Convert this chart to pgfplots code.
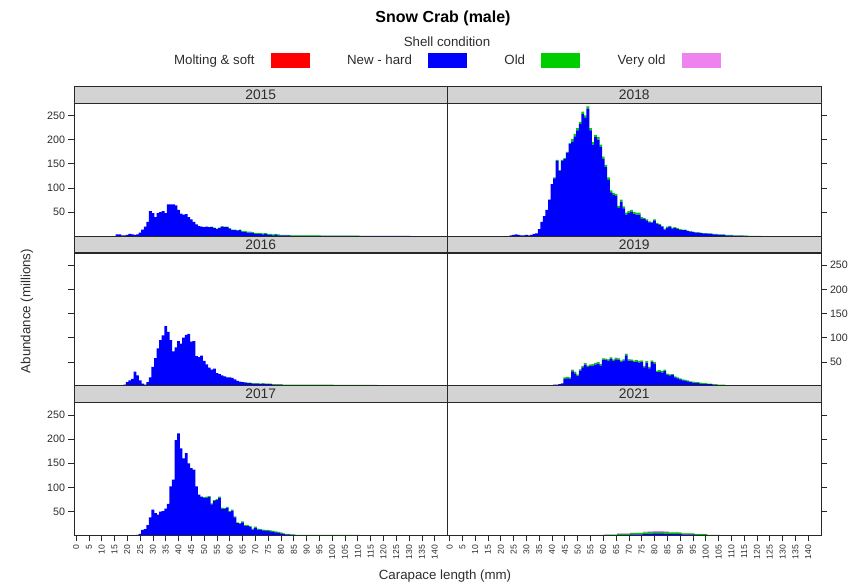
\documentclass[border=0pt]{standalone}
\usepackage{fontspec}
\setmainfont{Liberation Sans}
\usepackage{pgfplots}
\usepackage{pgfplotstable}
\pgfplotsset{compat=1.18}

\definecolor{molt}{RGB}{255,0,0}
\definecolor{newhard}{RGB}{0,0,255}
\definecolor{oldc}{RGB}{0,205,0}
\definecolor{vold}{RGB}{238,130,238}
\definecolor{stripgray}{RGB}{211,211,211}
\definecolor{frame}{RGB}{40,40,40}
\definecolor{ticktext}{RGB}{45,45,45}

\newcommand\labfont{\fontsize{13.3bp}{16bp}\selectfont}
\newcommand\stripfont{\fontsize{13.8bp}{16bp}\selectfont}
\newcommand\titlefont{\fontsize{16bp}{19bp}\selectfont\bfseries}
\newcommand\yfont{\fontsize{10.7bp}{12bp}\selectfont}
\newcommand\xfont{\fontsize{8.6bp}{10bp}\selectfont}

% abundance (millions) per 1 mm carapace-length bin: h = new-hard, o = old, v = very old
\pgfplotstableread[row sep=\\]{
x h o v\\
15 0 0 0\\16 4 0 0\\17 4 0 0\\18 2 0 0\\19 2 0 0\\20 3 0 0\\21 5 0 0\\22 4 0 0\\23 3 0 0\\24 4 0 0\\
25 8 0 0\\26 14 0 0\\27 20 0 0\\28 30 0 0\\29 52 0 0\\30 48 0 0\\31 40 0 0\\32 48 0 0\\33 50 0 0\\34 52 0 0\\
35 48 0 0\\36 66 0 0\\37 66 0 0\\38 66 0 0\\39 64 0 0\\40 55 0 0\\41 47 0 0\\42 45 0 0\\43 46 0 0\\44 40 0 0\\
45 35 0 0\\46 30 0 0\\47 25 0 0\\48 21 0 0\\49 20 0 0\\50 19 0 0\\51 20 0 0\\52 19 0 0\\53 19 1 0\\54 17 1 0\\
55 15 1 0\\56 17 1 0\\57 20 1 0\\58 19 1 0\\59 19 1 0\\60 16 1 0\\61 13 1 0\\62 13 1 0\\63 12 1 0\\64 13 1 0\\
65 9 2 0\\66 9 2 0\\67 8 2 0\\68 8 2 0\\69 7 2 0\\70 5 2 0\\71 5 2 0\\72 5 2 0\\73 4 2 0\\74 5 2 0\\
75 3 2 0\\76 3 2 0\\77 2 2 0\\78 3 2 0\\79 2 2 0\\80 2 1 0\\81 2 1 0\\82 2 1 0\\83 2 1 0\\84 1 1 0\\
85 1 1 0\\86 1 1 0\\87 1 1 0\\88 1 1 0\\89 1 1 0\\90 1 1 0\\91 1 1 0\\92 1 1 0\\93 1 1 0\\94 1 1 0\\
95 1 1 0\\96 1 0.5 0\\97 1 0.5 0\\98 1 0.5 0\\99 1 0.5 0\\100 1 0.5 0\\101 1 0.5 0\\102 1 0.5 0\\103 1 0.5 0\\104 1 0.5 0\\
105 1 0.5 0\\106 1 0.5 0\\107 1 0.5 0\\108 1 0.5 0\\109 1 0.5 0\\110 1 0.5 0\\111 1 0 0\\112 1 0 0\\113 1 0 0\\114 1 0 0\\
115 1 0 0\\116 1 0 0\\117 1 0 0\\118 1 0 0\\119 1 0 0\\120 1 0 0\\121 1 0 0\\122 1 0 0\\123 1 0 0\\124 1 0 0\\
125 1 0 0\\126 1 0 0\\127 1 0 0\\128 1 0 0\\129 1 0 0\\130 1 0 0\\
}\tA

\pgfplotstableread[row sep=\\]{
x h o v\\
7 2 0 0\\8 0 0 0\\9 0 0 0\\10 0 0 0\\11 0 0 0\\12 0 0 0\\13 0 0 0\\14 0 0 0\\15 0 0 0\\16 0 0 0\\17 0 0 0\\18 0 0 0\\
19 3 0 0\\20 8 0 0\\21 12 0 0\\22 15 0 0\\23 30 0 0\\24 22 0 0\\25 12 0 0\\26 5 0 0\\27 3 0 0\\28 8 0 0\\
29 18 0 0\\30 40 0 0\\31 58 0 0\\32 78 0 0\\33 95 0 0\\34 105 0 0\\35 124 0 0\\36 112 0 0\\37 95 0 0\\38 72 0 0\\
39 80 0 0\\40 93 0 0\\41 88 0 0\\42 100 0 0\\43 106 0 0\\44 108 0 0\\45 92 0 0\\46 93 0 0\\47 62 0 0\\48 60 0 0\\
49 63 0 0\\50 52 0 0\\51 45 0 0\\52 38 0 0\\53 34 0 0\\54 36 0 0\\55 27 0 0\\56 25 0 0\\57 22 0 0\\58 20 0 0\\
59 18 0 0\\60 18 0 0\\61 17 0 0\\62 14 0 0\\63 11 0 0\\64 9 0 0\\65 8 0 0\\66 7 1 0\\67 6 1 0\\68 6 1 0\\
69 5 1 0\\70 5 1 0\\71 5 1 0\\72 4 1 0\\73 5 1 0\\74 4 1 0.5\\75 4 1 0.5\\76 4 1 0\\77 3 1 0\\78 3 1 0\\
79 3 1 0\\80 3 1 0\\81 2 1 0\\82 2 1 0\\83 2 1 0\\84 2 1 0\\85 2 1 0\\86 2 1 0\\87 2 1 0\\88 2 1 0\\
89 2 1 0\\90 2 1 0\\91 2 1 0\\92 2 1 0\\93 2 1 0\\94 2 1 0\\95 2 1 0\\96 2 1 0\\97 2 1 0\\98 2 1 0\\
99 2 1 0\\100 2 1 0\\101 1.5 1 0\\102 1.5 1 0\\103 1.5 1 0\\104 1.5 1 0\\105 1.5 1 0\\106 1.5 1 0\\107 1.5 1 0\\108 1.5 1 0\\
109 1.5 1 0\\110 1.5 1 0\\111 1.5 1 0\\112 1.5 1 0\\113 1.5 1 0\\114 1.5 1 0\\115 1.5 1 0\\116 1.5 1 0\\117 1.5 1 0\\
}\tB

\pgfplotstableread[row sep=\\]{
x h o v\\
24 2 0 0\\25 4 0 0\\26 12 0 0\\27 14 0 0\\28 22 0 0\\29 38 0 0\\30 54 0 0\\31 47 0 0\\32 44 0 0\\33 50 0 0\\
34 51 0 0\\35 56 0 0\\36 66 0 0\\37 102 0 0\\38 116 0 0\\39 198 0 0\\40 212 0 0\\41 181 0 0\\42 160 0 0\\43 171 0 0\\
44 150 0 0\\45 140 0 0\\46 137 0 0\\47 102 0 0\\48 85 0 0\\49 81 0 0\\50 78 2 0\\51 79 2 0\\52 80 2 0\\53 65 2 0\\
54 72 2 0\\55 74 2 0\\56 79 2 0\\57 56 2 0\\58 55 2 0\\59 58 2 0\\60 49 2 0\\61 52 2 0\\62 38 2 0\\63 26 2 0\\
64 24 2 0\\65 28 2 0\\66 20 2 0\\67 20 2 0\\68 18 2 0\\69 13 2 0\\70 17 2 0\\71 13 2 0\\72 12 2 0\\73 11 2 0\\
74 10 2 0\\75 10 2 0\\76 9 2 0\\77 8 2 0\\78 7 2 0\\79 6 2 0\\80 5 2 0\\81 4 1 0\\82 3 1 0\\83 3 1 0\\
84 2 1 0\\85 2 1 0\\86 1 1 0\\87 1 1 0\\88 1 1 0\\89 1 1 0\\90 1 1 0\\91 1 1 0\\92 1 1 0\\93 1 1 0\\
94 1 1 0\\95 1 1 0\\96 1 1 0\\97 1 1 0\\98 1 1 0\\99 1 1 0\\100 1 1 0\\101 1 1 0\\102 1 1 0\\103 1 1 0\\
104 1 1 0\\105 1 1 0\\106 1 1 0\\107 1 1 0\\108 1 1 0\\109 1 1 0\\110 1 1 0\\111 0.5 0.5 0\\112 0.5 0.5 0\\113 0.5 0.5 0\\
}\tC

\pgfplotstableread[row sep=\\]{
x h o v\\
24 2 0 0\\25 3 0 0\\26 4 0 0\\27 3 0 0\\28 2 0 0\\29 2 0 0\\30 3 0 0\\31 2 0 0\\32 3 0 0\\33 5 0 0\\
34 6 0 0\\35 15 0 0\\36 30 0 0\\37 42 0 0\\38 55 0 0\\39 76 0 0\\40 108 0 0\\41 120 2 0\\42 156 2 0\\43 135 2 0\\
44 156 2 0\\45 160 2 0\\46 173 2 0\\47 191 2 0\\48 196 5 0\\49 207 5 0\\50 219 5 0\\51 232 5 0\\52 253 5 0\\53 245 5 0\\
54 264 5 0\\55 219 5 0\\56 190 5 0\\57 205 5 0\\58 200 5 0\\59 185 5 0\\60 160 5 0\\61 143 5 0\\62 117 5 0\\63 91 4 0\\
64 86 4 0\\65 84 4 0\\66 59 4 0\\67 72 4 0\\68 58 4 0\\69 45 4 0\\70 48 4 0\\71 51 4 0\\72 46 4 0\\73 45 4 0\\
74 45 4 0\\75 36 4 0\\76 36 2 0\\77 33 2 0\\78 29 2 0\\79 28 2 0\\80 33 2 0\\81 26 2 0\\82 24 2 0\\83 20 2 0\\
84 14 2 0\\85 18 2 0\\86 20 2 0\\87 16 2 0\\88 17 2 0\\89 15 2 0\\90 13 2 0\\91 13 1 0\\92 13 1 0\\93 11 1 0\\
94 10 1 0\\95 9 1 0\\96 8 1 0\\97 8 1 0\\98 7 1 0\\99 6 1 0\\100 6 1 0\\101 5 1 0\\102 5 1 0\\103 4 1 0\\
104 4 1 0\\105 3 1 0\\106 3 1 0\\107 3 1 0\\108 2 1 0\\109 2 1 0\\110 2 1 0\\111 1.5 0.5 0\\112 1.5 0.5 0\\113 1.5 0.5 0\\
114 1.5 0.5 0\\115 1 0.5 0\\116 1 0.5 0\\117 0.5 0.5 0\\118 0.5 0.5 0\\119 0.5 0.5 0\\120 0.5 0.5 0\\121 0.5 0.5 0\\
}\tD

\pgfplotstableread[row sep=\\]{
x h o v\\
40 2 0 0\\41 3 0 0\\42 3 0 0\\43 4 0 0\\44 5 1 0\\45 15 3 0\\46 16 3 0\\47 15 3 0\\48 30.5 3 0.5\\49 26.5 3 0.5\\
50 20.5 3 0.5\\51 31.5 3 0.5\\52 38.5 3 0.5\\53 44.5 3 0.5\\54 39.5 3 0.5\\55 41.5 3 0.5\\56 42.5 3 0.5\\57 44.5 3 0.5\\58 46.5 3 0.5\\59 42.5 3 0.5\\
60 54.5 3 0.5\\61 53.5 3 0.5\\62 52.5 3 0.5\\63 56.5 3 0.5\\64 51.5 3 0.5\\65 55.5 3 0.5\\66 54.5 3 0.5\\67 49.5 3 0.5\\68 52.5 3 0.5\\69 63.5 3 0.5\\
70 52.5 3 0.5\\71 51.5 3 0.5\\72 49.5 3 0.5\\73 50.5 3 0.5\\74 48.5 3 0.5\\75 49.5 3 0.5\\76 38.5 3 0.5\\77 48.5 3 0.5\\78 36.5 3 0.5\\79 49.5 3 0.5\\
80 46.5 3 0.5\\81 29 3 0\\82 30 3 0\\83 28 3 0\\84 31 3 0\\85 23 3 0\\86 22 2 0\\87 23 2 0\\88 18 2 0\\89 16 2 0\\
90 14 2 0\\91 12 2 0\\92 11 2 0\\93 10 2 0\\94 8 2 0\\95 7 2 0\\96 6 2 0\\97 6 2 0\\98 5 2 0\\99 4 2 0\\
100 4 2 0\\101 4 1 0\\102 4 1 0\\103 3 1 0\\104 3 1 0\\105 2 1 0\\106 2 1 0\\107 2 1 0\\108 1.5 0.5 0\\109 1.5 0.5 0\\
110 1.5 0.5 0\\111 1.5 0.5 0\\112 1.5 0.5 0\\113 1.5 0.5 0\\114 0.5 0.5 0\\115 0.5 0.5 0\\116 0.5 0.5 0\\117 0.5 0.5 0\\118 0.5 0.5 0\\
}\tE

\pgfplotstableread[row sep=\\]{
x h o v\\
10 1 0 0\\52 0 0 0.8\\53 0 0 0.8\\54 0 0 0.8\\55 0 0 0.8\\56 0.5 1 0.5\\57 0.5 1 0.5\\58 0.5 1 0.5\\59 0.5 1 0.5\\60 0.5 1 0.5\\
61 1 1.5 0.5\\62 1 1.5 0.5\\63 1 1.5 0.5\\64 1 1.5 0.5\\65 1 1.5 0.5\\66 2 2 1\\67 2 2 1\\68 2 2 1\\69 2 2 1\\70 2 2 1\\
71 3 2.5 1\\72 3 2.5 1\\73 3 2.5 1\\74 3 2.5 1\\75 3 2.5 1\\76 4 3 1.5\\77 4 3 1.5\\78 4.5 3 1.5\\79 4.5 3 1.5\\80 5 3 1.5\\
81 5 3 1.5\\82 5 3 1.5\\83 5 3 1.5\\84 4.5 3 1.5\\85 4.5 3 1.5\\86 4 3 1\\87 4 3 1\\88 4 3 1\\89 4 3 1\\90 3.5 3 1\\
91 3 2 0.5\\92 3 2 0.5\\93 3 2 0.5\\94 3 2 0.5\\95 3 2 0.5\\96 2 1.5 0.5\\97 2 1.5 0.5\\98 2 1.5 0.5\\99 2 1.5 0.5\\100 2 1.5 0.5\\
101 1 1 0\\102 1 1 0\\103 1 1 0\\104 1 1 0\\105 1 1 0\\106 0.5 0.5 0\\107 0.5 0.5 0\\
}\tF

\pgfplotsset{
  panel/.style={
    scale only axis, width=373.5bp, height=133bp,
    xmin=-0.8, xmax=145, ymin=0, ymax=275,
    enlargelimits=false,
    ybar stacked, bar width=1.1,
    axis on top,
    axis line style={draw=frame, line width=0.8bp},
    every tick/.style={draw=frame, line width=0.7bp},
    tick align=outside, major tick length=5.5bp,
    ytick={50,100,150,200,250},
    xtick=\empty,
    /pgf/number format/assume math mode=true,
    yticklabel style={font=\yfont, text=ticktext},
    every axis title shift=0pt,
    title style={at={(0.5,1)}, anchor=south, fill=stripgray, draw=frame,
      line width=0.8bp, minimum width=373.5bp, minimum height=16.7bp,
      inner sep=0pt, font=\stripfont, text=ticktext},
  },
  leftcol/.style={ytick pos=left, yticklabel pos=left},
  rightcol/.style={ytick pos=right, yticklabel pos=right},
  nolabels/.style={yticklabels={}},
  bottomrow/.style={xtick={0,5,...,140}, xtick pos=bottom,
    xticklabel style={rotate=90, anchor=east, font=\xfont, text=ticktext}},
  swatch/.style={legend image code/.code={\fill[#1] (0bp,-7bp) rectangle (38bp,7bp);}},
}

% one stacked histogram per year
\newcommand\shells[1]{%
  \addplot[fill=newhard, draw=none] table[x=x, y=h] {#1};
  \addplot[fill=oldc, draw=none] table[x=x, y=o] {#1};
  \addplot[fill=vold, draw=none] table[x=x, y=v] {#1};
}

\begin{document}
\begin{tikzpicture}
\useasboundingbox (0bp,0bp) rectangle (856bp,584bp);

\begin{axis}[panel, leftcol, title={2015}, at={(74bp,347.6bp)}, anchor=south west,
  legend columns=4, legend plot pos=right,
  legend style={at={(0.9987,1.3263)}, anchor=center, draw=none, fill=none,
    font=\labfont, text=ticktext, nodes={inner sep=0pt},
    /tikz/every odd column/.append style={column sep=16bp},
    /tikz/every even column/.append style={column sep=38bp}}]
  \addlegendimage{swatch=molt}\addlegendentry{Molting \& soft}
  \addlegendimage{swatch=newhard}\addlegendentry{New - hard}
  \addlegendimage{swatch=oldc}\addlegendentry{Old}
  \addlegendimage{swatch=vold}\addlegendentry{Very old}
  \shells{\tA}
\end{axis}

\begin{axis}[panel, leftcol, nolabels, title={2016}, at={(74bp,197.9bp)}, anchor=south west]
  \shells{\tB}
\end{axis}

\begin{axis}[panel, leftcol, bottomrow, title={2017}, at={(74bp,48.2bp)}, anchor=south west]
  \shells{\tC}
\end{axis}

\begin{axis}[panel, rightcol, nolabels, title={2018}, at={(447.5bp,347.6bp)}, anchor=south west]
  \shells{\tD}
\end{axis}

\begin{axis}[panel, rightcol, title={2019}, at={(447.5bp,197.9bp)}, anchor=south west]
  \shells{\tE}
\end{axis}

\begin{axis}[panel, rightcol, nolabels, bottomrow, title={2021}, at={(447.5bp,48.2bp)}, anchor=south west]
  \shells{\tF}
\end{axis}

\node[font=\titlefont, text=black] at (443bp,566bp) {Snow Crab (male)};
\node[font=\labfont, text=ticktext] at (447bp,542bp) {Shell condition};
\node[font=\labfont, text=ticktext, rotate=90] at (27bp,273bp) {Abundance (millions)};
\node[font=\labfont, text=ticktext] at (445bp,8bp) {Carapace length (mm)};
\end{tikzpicture}
\end{document}
